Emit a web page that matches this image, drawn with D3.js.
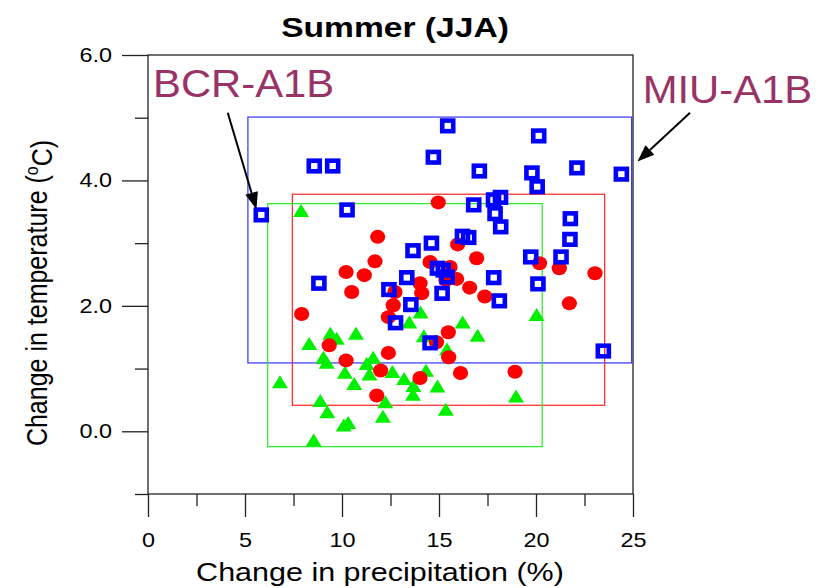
<!DOCTYPE html>
<html>
<head>
<meta charset="utf-8">
<script src="https://cdn.jsdelivr.net/npm/d3@7"></script>
<style>
  body { margin: 0; background: #fff; }
  svg { display: block; }
  text { font-family: "Liberation Sans", Arial, Helvetica, sans-serif; }
</style>
</head>
<body>
<svg id="chart" width="824" height="588"></svg>
<script>
// ---- axis ticks ----
const xMajorTicks = [0, 5, 10, 15, 20, 25];
const xMinorTicks = [2.5, 7.5, 12.5, 17.5, 22.5];
const yMajorTicks = [6, 4, 2, 0];
const yMinorTicks = [5, 3, 1, -1];

// ---- blue squares: change in precipitation (%) / temperature (°C) ----
const squarePrecip = [5.84, 8.57, 9.52, 10.26, 15.45, 20.14, 14.71, 17.08, 22.11, 24.40,
  19.79, 20.06, 18.17, 17.81, 16.79, 17.89, 18.18, 21.77, 21.75, 16.21,
  16.53, 14.61, 13.66, 19.73, 21.29, 20.10, 17.82, 18.11, 14.92, 15.22,
  15.42, 13.34, 15.16, 13.55, 12.42, 12.76, 14.54, 23.47, 8.81];
const squareTemp = [3.45, 4.23, 4.23, 3.53, 4.87, 4.71, 4.37, 4.15, 4.20, 4.10,
  4.12, 3.90, 3.73, 3.69, 3.61, 3.47, 3.26, 3.39, 3.06, 3.11,
  3.09, 3.00, 2.88, 2.78, 2.78, 2.35, 2.45, 2.08, 2.60, 2.57,
  2.46, 2.45, 2.20, 2.02, 2.26, 1.73, 1.41, 1.28, 2.36];

// ---- red circles ----
const circlePrecip = [11.84, 11.70, 10.21, 11.15, 10.50, 7.92, 9.34, 10.21, 12.39, 11.99,
  11.79, 12.73, 12.64, 12.39, 14.96, 15.96, 16.94, 20.18, 21.20, 14.54,
  15.57, 15.91, 16.58, 14.02, 14.11, 17.36, 23.04, 21.72, 15.48, 14.87,
  15.50, 16.11, 14.02, 18.92, 15.36];
const circleTemp = [3.10, 2.71, 2.54, 2.49, 2.22, 1.87, 1.37, 1.13, 1.25, 0.97,
  0.57, 2.22, 2.01, 1.82, 3.65, 2.98, 2.76, 2.68, 2.60, 2.70,
  2.62, 2.43, 2.29, 2.36, 2.20, 2.15, 2.52, 2.04, 1.58, 1.42,
  1.18, 0.93, 0.85, 0.95, 2.41];

// ---- green triangles ----
const trianglePrecip = [7.89, 6.80, 8.31, 9.40, 9.73, 10.72, 9.04, 9.21, 10.15, 10.63,
  11.61, 11.27, 11.41, 12.60, 8.88, 9.24, 12.23, 12.11, 10.09, 10.32,
  8.54, 14.05, 13.47, 16.22, 16.99, 14.22, 15.41, 20.03, 14.33, 13.20,
  13.68, 13.66, 14.92, 15.35, 18.97];
const triangleTemp = [3.52, 0.79, 1.40, 1.56, 1.48, 1.56, 1.18, 1.10, 0.94, 0.76,
  1.18, 1.08, 0.91, 0.95, 0.49, 0.31, 0.47, 0.24, 0.10, 0.14,
  -0.14, 1.90, 1.74, 1.74, 1.53, 1.52, 1.31, 1.86, 0.97, 0.84,
  0.73, 0.59, 0.72, 0.35, 0.56];

// ---- range boxes [xmin, xmax], [ymin, ymax] ----
const squareBoxX = [5.15, 24.93], squareBoxY = [1.09, 5.01];
const circleBoxX = [7.44, 23.54], circleBoxY = [0.415, 3.78];
const triangleBoxX = [6.17, 20.32], triangleBoxY = [-0.245, 3.63];

// ---- annotations (data units) ----
const labelNames = ["BCR-A1B", "MIU-A1B"];
const labelX = [0.26, 25.5];
const labelY = [5.33, 5.24];
const arrowFromX = [4.11, 27.94], arrowFromY = [5.08, 5.08];
const arrowToX = [5.59, 25.23], arrowToY = [3.54, 4.30];

const svg = d3.select("#chart");
const x = d3.scaleLinear().domain([0, 25]).range([148, 633]);
const y = d3.scaleLinear().domain([-1, 6]).range([494, 55]);

const axisColor = "#222";

// stretch text horizontally around its own anchor
function widen(textSel, sx) {
  textSel.each(function () {
    const t = d3.select(this);
    const tx = +t.attr("x") || 0;
    t.attr("x", tx / sx).attr("transform", `scale(${sx},1)`);
  });
}

// ---- frame ----
svg.append("rect")
  .attr("x", x(0)).attr("y", y(6))
  .attr("width", x(25) - x(0)).attr("height", y(-1) - y(6))
  .attr("fill", "none").attr("stroke", axisColor).attr("stroke-width", 1.3);

// ---- axes ----
const gx = svg.append("g").attr("transform", `translate(0,${y(-1)})`);
gx.append("g").call(d3.axisBottom(x).tickValues(xMinorTicks).tickSize(12).tickFormat(""));
const gxMaj = gx.append("g").call(d3.axisBottom(x).tickValues(xMajorTicks).tickSize(23).tickPadding(16).tickFormat(d3.format("d")));
gx.selectAll(".domain").remove();
gx.selectAll("line").attr("stroke", axisColor).attr("stroke-width", 1.3);
gxMaj.selectAll("text").style("font-size", "20px").style("fill", "#000");
widen(gxMaj.selectAll("text"), 1.17);

const gy = svg.append("g").attr("transform", `translate(${x(0)},0)`);
gy.append("g").call(d3.axisLeft(y).tickValues(yMinorTicks).tickSize(13).tickFormat(""));
const gyMaj = gy.append("g").call(d3.axisLeft(y).tickValues(yMajorTicks).tickSize(26).tickPadding(10).tickFormat(d3.format(".1f")));
gy.selectAll(".domain").remove();
gy.selectAll("line").attr("stroke", axisColor).attr("stroke-width", 1.3);
gyMaj.selectAll("text").style("font-size", "20px").style("fill", "#000");
widen(gyMaj.selectAll("text"), 1.17);

// ---- range boxes ----
const boxes = [
  { bx: squareBoxX, by: squareBoxY, color: "#3333ff" },
  { bx: circleBoxX, by: circleBoxY, color: "#ff2222" },
  { bx: triangleBoxX, by: triangleBoxY, color: "#22ee22" }
];
svg.append("g").selectAll("rect").data(boxes).join("rect")
  .attr("x", d => x(d.bx[0])).attr("y", d => y(d.by[1]))
  .attr("width", d => x(d.bx[1]) - x(d.bx[0]))
  .attr("height", d => y(d.by[0]) - y(d.by[1]))
  .attr("fill", "none").attr("stroke", d => d.color).attr("stroke-width", 1.2);

// ---- green triangles ----
const triPath = "M0,-6.6L8,6.4L-8,6.4Z";
svg.append("g").selectAll("path")
  .data(d3.zip(trianglePrecip, triangleTemp)).join("path")
  .attr("d", triPath)
  .attr("transform", d => `translate(${x(d[0])},${y(d[1])})`)
  .attr("fill", "#00f000");

// ---- red circles ----
svg.append("g").selectAll("ellipse")
  .data(d3.zip(circlePrecip, circleTemp)).join("ellipse")
  .attr("cx", d => x(d[0])).attr("cy", d => y(d[1]))
  .attr("rx", 7.6).attr("ry", 7.0)
  .attr("fill", "#ff0000");

// ---- blue squares (hollow) ----
svg.append("g").selectAll("rect")
  .data(d3.zip(squarePrecip, squareTemp)).join("rect")
  .attr("x", d => x(d[0]) - 5.5).attr("y", d => y(d[1]) - 5.3)
  .attr("width", 11).attr("height", 10.6)
  .attr("fill", "none").attr("stroke", "#0000ff").attr("stroke-width", 4.6);

// ---- labels and arrows ----
const labels = svg.append("g");
labelNames.forEach((name, i) => {
  labels.append("text")
    .attr("x", x(labelX[i]) / 1.1).attr("y", y(labelY[i]))
    .attr("transform", "scale(1.1,1)")
    .style("font-size", "38px").style("fill", "#993366")
    .text(name);

  const x0 = x(arrowFromX[i]), y0 = y(arrowFromY[i]);
  const x1 = x(arrowToX[i]), y1 = y(arrowToY[i]);
  const ang = Math.atan2(y1 - y0, x1 - x0);
  const headLen = 17, headHalf = 6.5;
  const bx = x1 - headLen * Math.cos(ang), by = y1 - headLen * Math.sin(ang);
  labels.append("line")
    .attr("x1", x0).attr("y1", y0).attr("x2", bx).attr("y2", by)
    .attr("stroke", "#000").attr("stroke-width", 2);
  labels.append("path")
    .attr("d", `M${x1},${y1}L${bx + headHalf * Math.sin(ang)},${by - headHalf * Math.cos(ang)}L${bx - headHalf * Math.sin(ang)},${by + headHalf * Math.cos(ang)}Z`)
    .attr("fill", "#000");
});

// ---- titles ----
svg.append("text")
  .attr("x", 395 / 1.2).attr("y", 37)
  .attr("transform", "scale(1.2,1)")
  .attr("text-anchor", "middle")
  .style("font-size", "28px").style("font-weight", "bold").style("fill", "#000")
  .text("Summer (JJA)");

svg.append("text")
  .attr("x", 380 / 1.22).attr("y", 581)
  .attr("transform", "scale(1.22,1)")
  .attr("text-anchor", "middle")
  .style("font-size", "25px").style("fill", "#000")
  .text("Change in precipitation (%)");

const yTitle = svg.append("text")
  .attr("transform", "translate(47,293) scale(1.2,1) rotate(-90)")
  .attr("text-anchor", "middle")
  .style("font-size", "25px").style("fill", "#000");
yTitle.append("tspan").text("Change in temperature (");
yTitle.append("tspan").attr("dy", "-0.45em").style("font-size", "16px").text("o");
yTitle.append("tspan").attr("dy", "0.45em").text("C)");
</script>
</body>
</html>
